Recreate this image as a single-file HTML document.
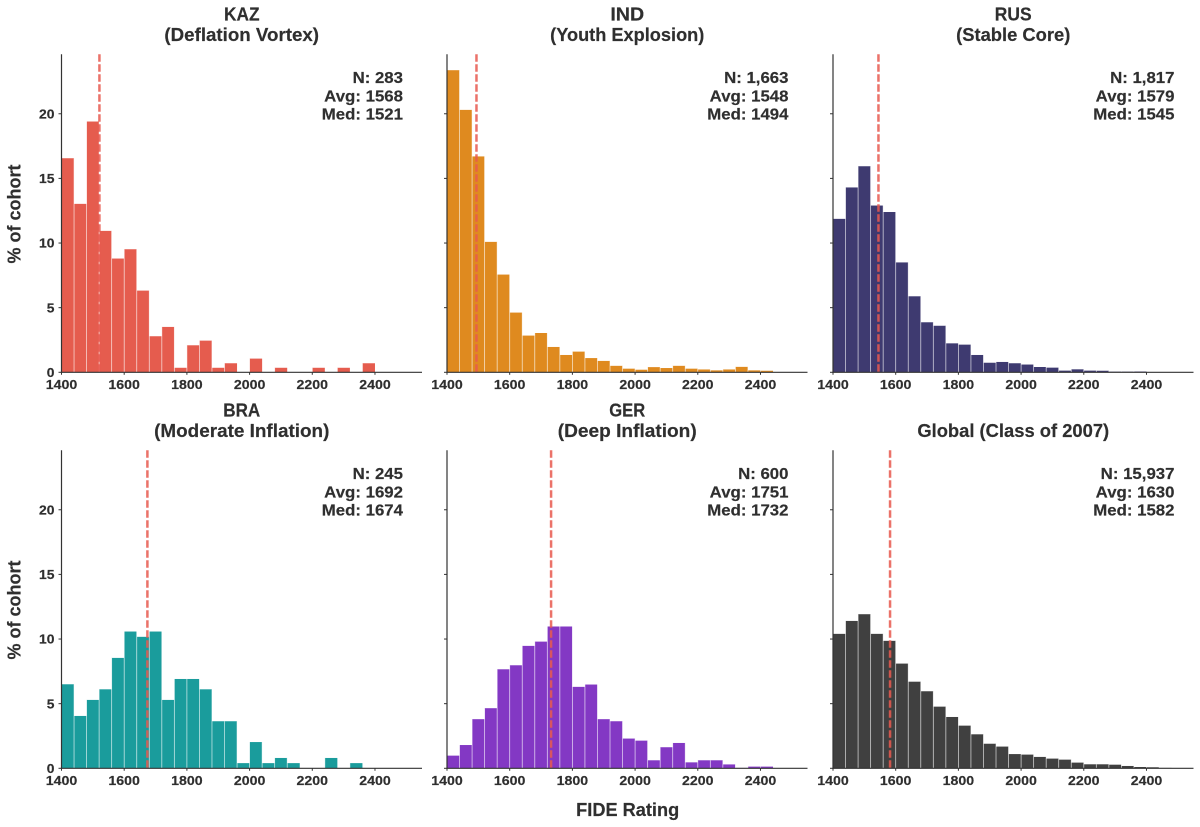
<!DOCTYPE html>
<html lang="en">
<head>
<meta charset="utf-8">
<title>FIDE rating distributions, class of 2007</title>
<style>
html,body{margin:0;padding:0;background:#fff;}
svg{display:block;}
text{font-family:"Liberation Sans",Arial,sans-serif;font-weight:700;fill:#2f2f2f;stroke:#2f2f2f;stroke-width:0.18px;}
</style>
</head>
<body>
<svg id="chart" width="1200" height="827" viewBox="0 0 1200 827" xmlns="http://www.w3.org/2000/svg"></svg>
<script>
const panelIds = ['KAZ', 'IND', 'RUS', 'BRA', 'GER', 'Global'];
const titleLines = [
  ['KAZ', '(Deflation Vortex)'],
  ['IND', '(Youth Explosion)'],
  ['RUS', '(Stable Core)'],
  ['BRA', '(Moderate Inflation)'],
  ['GER', '(Deep Inflation)'],
  ['Global (Class of 2007)']
];
const titleFit = [
  [0.96, 1.04],
  [1.09, 1.01],
  [0.97, 1.02],
  [0.95, 1.05],
  [0.92, 1.06],
  [1.02]
];
const colors = ['#E55C4E', '#DF8A1F', '#3E3A70', '#1A9C9C', '#8338C4', '#404040'];
const binStart = 1400;
const binWidth = 40;
const kazValues = [16.56,13.03,19.4,10.94,8.8,9.52,6.32,2.79,3.51,0.35,2.09,2.45,0.35,0.7,0,1.06,0,0.35,0,0,0.35,0,0.35,0,0.7];
const indValues = [23.37,20.3,16.7,10.09,7.56,4.62,2.84,3.04,1.96,1.34,1.6,1.1,0.88,0.5,0.28,0.2,0.4,0.33,0.5,0.28,0.22,0.15,0.22,0.42,0.15,0.12];
const rusValues = [11.87,14.3,15.94,12.9,12.4,8.5,5.88,3.87,3.6,2.24,2.14,1.34,0.74,0.8,0.7,0.6,0.41,0.36,0.13,0.23,0.13,0.12,0.05,0.05,0.06];
const braValues = [6.5,4.05,5.29,6.11,8.54,10.58,10.17,10.58,5.29,6.91,6.91,6.11,3.64,3.64,0.4,2.03,0.4,0.8,0.4,0,0,0.8,0,0.4];
const gerValues = [0.98,1.8,3.8,4.65,7.66,7.97,9.47,9.8,10.97,10.97,6.3,6.48,3.8,3.64,2.3,2.14,0.62,1.63,1.96,0.46,0.62,0.62,0.3,0.03,0.13,0.13];
const globalValues = [10.4,11.4,11.92,10.4,9.86,8.1,6.7,5.96,4.77,3.97,3.3,2.63,1.9,1.68,1.1,1.06,0.88,0.75,0.67,0.44,0.31,0.31,0.28,0.18,0.1,0.08,0.03,0.02];
const seriesValues = [kazValues, indValues, rusValues, braValues, gerValues, globalValues];
const sampleLabels = ['N: 283', 'N: 1,663', 'N: 1,817', 'N: 245', 'N: 600', 'N: 15,937'];
const averageLabels = ['Avg: 1568', 'Avg: 1548', 'Avg: 1579', 'Avg: 1692', 'Avg: 1751', 'Avg: 1630'];
const medianLabels = ['Med: 1521', 'Med: 1494', 'Med: 1545', 'Med: 1674', 'Med: 1732', 'Med: 1582'];
const medians = [1521, 1494, 1545, 1674, 1732, 1582];
const xTicks = [1400, 1600, 1800, 2000, 2200, 2400];
const yTicks = [0, 5, 10, 15, 20];
const xDomain = [1400, 2550];
const yDomain = [0, 24.6];

const NS = 'http://www.w3.org/2000/svg';
const svg = document.getElementById('chart');
const FRAME_LEFT = [61.5, 447, 833];
const FRAME_WIDTH = 360.5;
const FRAME_BOTTOM = [372.3, 768.3];
const FRAME_HEIGHT = 318;

function node(tag, parent) {
  const el = document.createElementNS(NS, tag);
  parent.appendChild(el);
  return el;
}
function stretch(el, factor) {
  el.setAttribute('textLength', (el.getComputedTextLength() * factor).toFixed(1));
  el.setAttribute('lengthAdjust', 'spacingAndGlyphs');
}
function label(parent, str, x, y, size, anchor, factor) {
  const t = node('text', parent);
  t.textContent = str;
  t.setAttribute('x', x);
  t.setAttribute('y', y);
  t.setAttribute('font-size', size);
  t.setAttribute('text-anchor', anchor);
  stretch(t, factor);
  return t;
}
function seg(parent, x1, y1, x2, y2, color, width) {
  const l = node('line', parent);
  l.setAttribute('x1', x1);
  l.setAttribute('y1', y1);
  l.setAttribute('x2', x2);
  l.setAttribute('y2', y2);
  l.setAttribute('stroke', color);
  l.setAttribute('stroke-width', width);
  return l;
}

panelIds.forEach(function (id, p) {
  const col = p % 3;
  const row = Math.floor(p / 3);
  const left = FRAME_LEFT[col];
  const bottom = FRAME_BOTTOM[row];
  const xScale = function (v) { return left + (v - xDomain[0]) / (xDomain[1] - xDomain[0]) * FRAME_WIDTH; };
  const yScale = function (v) { return bottom - (v - yDomain[0]) / (yDomain[1] - yDomain[0]) * FRAME_HEIGHT; };
  const cx = left + FRAME_WIDTH / 2;

  const g = node('g', svg);
  
  

  const lines = titleLines[p];
  const titleBase = row === 0 ? 41 : 437;
  lines.forEach(function (line, i) {
    const y = titleBase - (lines.length - 1 - i) * 20.6;
    const t = label(g, line, cx, y, 18, 'middle', titleFit[p][i]);
    
    
  });

  seriesValues[p].forEach(function (value, i) {
    if (value <= 0) return;
    const x0 = xScale(binStart + i * binWidth);
    const x1 = xScale(binStart + (i + 1) * binWidth);
    const r = node('rect', g);
    r.setAttribute('x', x0);
    r.setAttribute('y', yScale(value));
    r.setAttribute('width', x1 - x0);
    r.setAttribute('height', bottom - yScale(value));
    r.setAttribute('fill', colors[p]);
    
    
  });

  seriesValues[p].forEach(function (value, i) {
    if (i === 0 || value <= 0) return;
    const x = xScale(binStart + i * binWidth);
    const top = yScale(Math.max(value, seriesValues[p][i - 1]));
    const d = seg(g, x, top, x, bottom, '#fff', 0.8);
    d.setAttribute('stroke-opacity', '0.7');
    
    
  });

  const med = seg(g, xScale(medians[p]), yScale(yDomain[1]), xScale(medians[p]), bottom, '#E8594F', 2.5);
  med.setAttribute('stroke-dasharray', '7.4 2.6');
  med.setAttribute('stroke-opacity', '0.85');
  
  

  const yAxis = seg(g, left, bottom - FRAME_HEIGHT, left, bottom + 0.6, '#333', 1.2);
  
  
  const xAxis = seg(g, left - 0.6, bottom, left + FRAME_WIDTH, bottom, '#333', 1.2);
  
  

  xTicks.forEach(function (tick) {
    const x = xScale(tick);
    const m = seg(g, x, bottom, x, bottom + 2.5, '#333', 1);
    
    
    const t = label(g, String(tick), x, bottom + 16.5, 13, 'middle', 1.09);
    
    
  });

  yTicks.forEach(function (tick) {
    const y = yScale(tick);
    const m = seg(g, left - 3, y, left, y, '#333', 1);
    
    
    if (col === 0) {
      const t = label(g, String(tick), left - 7, y + 4.7, 13, 'end', 1.07);
      
      
    }
  });

  if (col === 0) {
    const midY = bottom - 158.3;
    const t = label(g, '% of cohort', 20.5, midY, 18, 'middle', 1.0);
    t.setAttribute('transform', 'rotate(-90 20.5 ' + midY + ')');
    
    
  }

  const statRight = left + FRAME_WIDTH - 19;
  const statBase = bottom - 289.3;
  [sampleLabels[p], averageLabels[p], medianLabels[p]].forEach(function (line, i) {
    const t = label(g, line, statRight, statBase + i * 18.3, 16, 'end', 1.05);
    
    
  });
});

const xTitle = label(svg, 'FIDE Rating', 627.7, 816, 18, 'middle', 1.01);


</script>
</body>
</html>
